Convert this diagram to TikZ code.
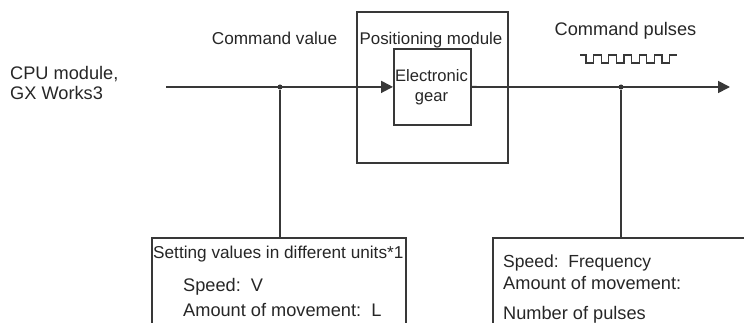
\documentclass[tikz,border=0pt]{standalone}
\usepackage{fontspec}
\setmainfont{Liberation Sans}
\usetikzlibrary{arrows.meta}

\begin{document}
\begin{tikzpicture}[
  x=1pt, y=-1pt,
  every node/.style={inner sep=0pt, text=black!85,
    font=\fontsize{18.2}{20}\selectfont},
  fs/.style={font=\fontsize{#1}{20}\selectfont},
  line/.style={draw=black!78, line width=1.8pt},
  arrow/.style={line, -{Triangle[length=12pt, width=12pt]}},
  box/.style={line, rectangle, inner sep=0pt},
  dot/.style={circle, fill=black!80, minimum size=5pt, inner sep=0pt},
  label/.style={anchor=base west},
  pulse/.style={draw=black!78, line width=1.3pt}]

  % ---- page size -----------------------------------------------------------
  \useasboundingbox (0,0) rectangle (744,323);
  \clip (0,0) rectangle (744,323);

  % ---- source text -----------------------------------------------------------
  \node[label] (cpu) at (10,80) {CPU module,};
  \node[label] (gxw) at (10,100) {GX Works3};

  % ---- the positioning module with the electronic gear inside --------------
  \node[box, minimum width=151pt, minimum height=151pt, anchor=north west]
    (posmod) at (356,11) {};
  \node[anchor=base, fs=16.9] (posname) at (431,45) {Positioning module};
  \node[box, minimum width=77pt, minimum height=76pt, anchor=north west]
    (gear) at (393,48) {};
  \node[anchor=base, fs=16.6] (gearA) at (431.5,82) {Electronic};
  \node[anchor=base, fs=16.6] (gearB) at (431.5,102) {gear};

  % ---- the signal line -----------------------------------------------------
  \coordinate (lineStart) at (166,87);
  \coordinate (lineEnd) at (730,87);
  \node[dot] (valdot) at (280,87) {};
  \node[dot] (puldot) at (621,87) {};
  \draw[arrow] (lineStart) -- (gear.west);
  \draw[arrow] (gear.east) -- (lineEnd);

  \node[anchor=base, fs=17.2] (cmdval) at (274.5,45) {Command value};
  \node[anchor=base] (cmdpul) at (625.5,36) {Command pulses};

  % ---- the pulse train -----------------------------------------------------
  \draw[pulse] (580,55) -- (586,55)
    \foreach \i in {0,...,5} {
      -- ++(0,8) -- ++(7.6,0) -- ++(0,-8)
      \ifnum\i<5 -- ++(7.6,0) \fi
    } -- (677,55);

  % ---- the two boxes below, running off the page ---------------------------
  \node[box, minimum width=254pt, minimum height=140pt, anchor=north west]
    (units) at (151,237) {};
  \node[box, minimum width=300pt, minimum height=140pt, anchor=north west]
    (pulses) at (492,237) {};
  \draw[line] (valdot) -- (valdot |- units.north);
  \draw[line] (puldot) -- (puldot |- pulses.north);

  \node[label, fs=17.2] (unitsA) at (153,258) {Setting values in different units*1};
  \node[label] (unitsB) at (183,291) {Speed:\ \ V};
  \node[label] (unitsC) at (183,316) {Amount of movement:\ \ L};

  \node[label, fs=17.5] (pulsesA) at (503,267) {Speed:\ \ Frequency};
  \node[label] (pulsesB) at (503,289) {Amount of movement:};
  \node[label] (pulsesC) at (503,319) {Number of pulses};
\end{tikzpicture}
\end{document}
